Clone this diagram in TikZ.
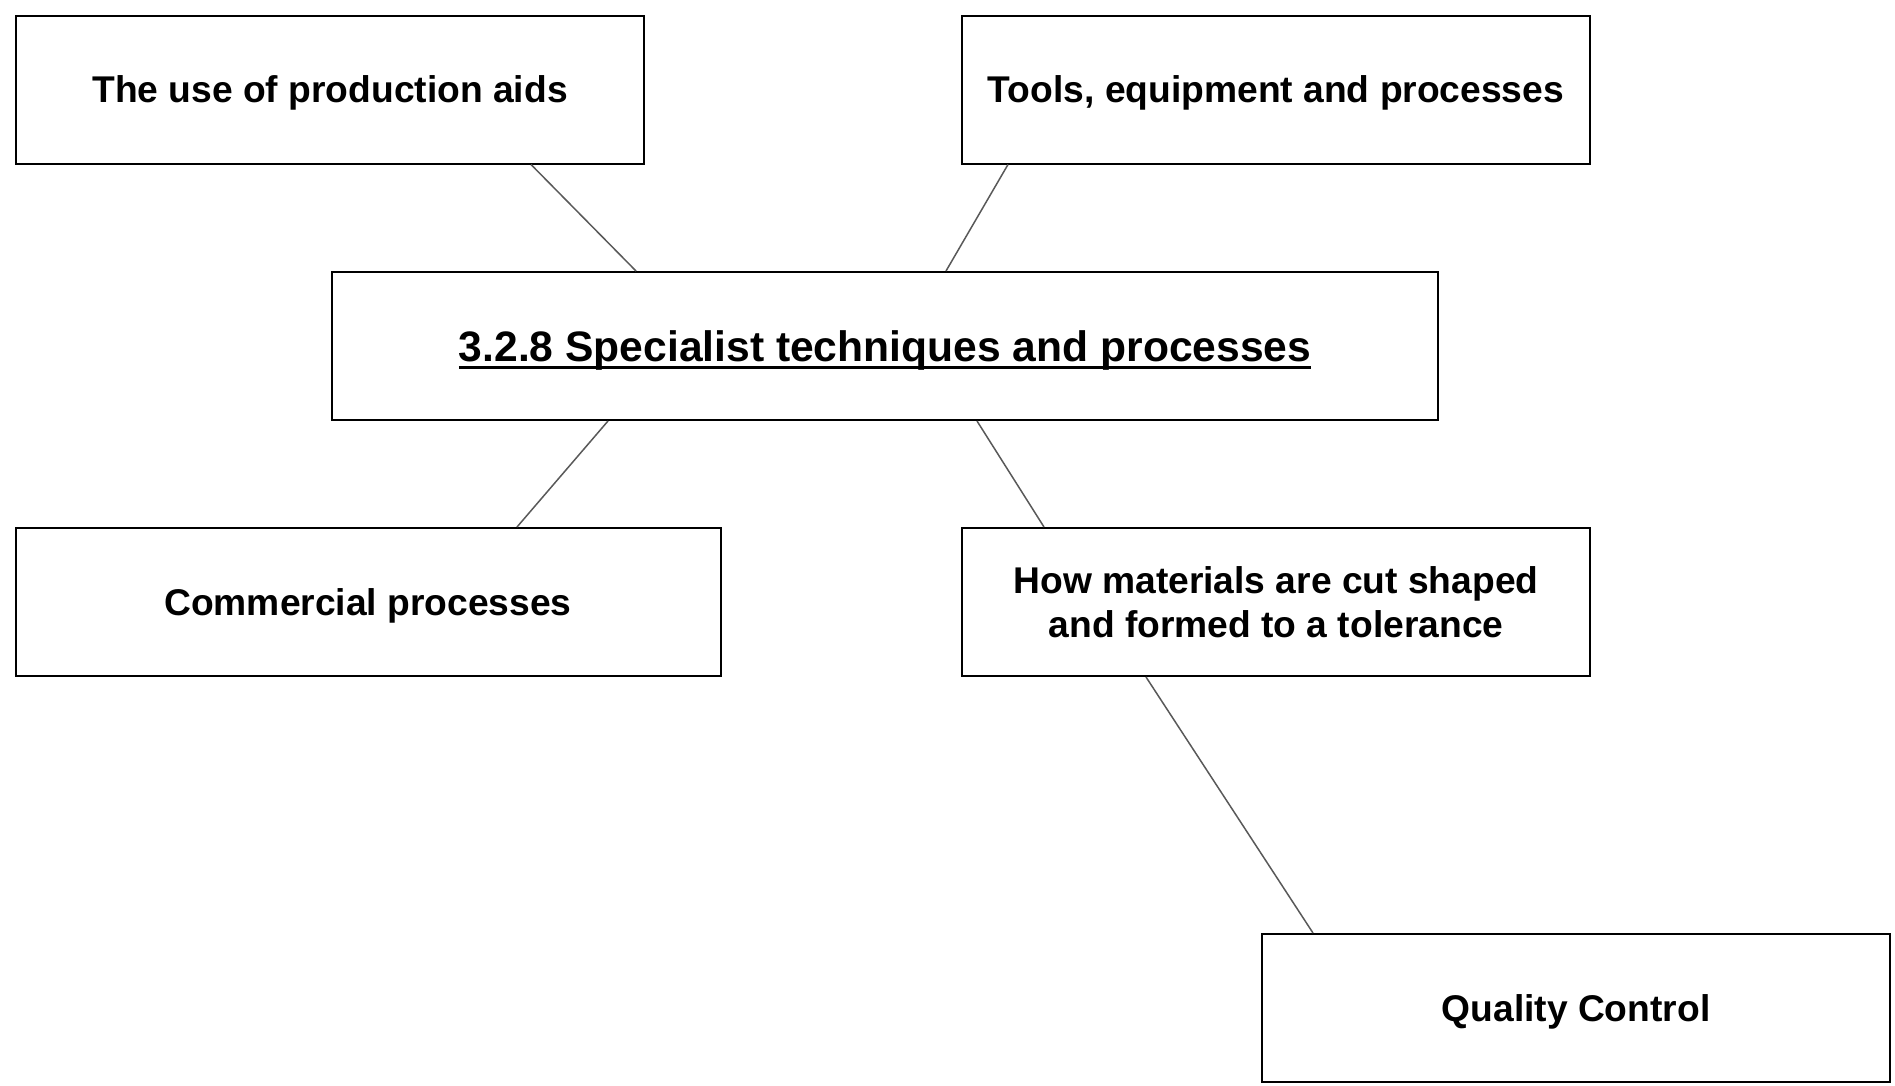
\documentclass[tikz,border=0pt]{standalone}
\usepackage{fontspec}
\setmainfont{Liberation Sans}
\usepackage{tikz}
\usetikzlibrary{positioning}
\newcommand\ulbox[1]{\setbox0\hbox{#1}\rlap{\rule[-7.5pt]{\wd0}{3pt}}\box0}
\tikzset {
    style A/.style={
        draw=black,
        line width=2pt,
        rectangle, % Set the shape as a rectangle
        minimum width=628pt,
        minimum height=148pt,
        align=center,
        font=\fontsize{37.2}{44}\selectfont\bfseries,
    },
    style S/.style={
        style A,
        text depth=0pt, % single line of text
    },
    style B/.style={
        style S,
        minimum width=1106pt,
        font=\fontsize{42.6}{50}\selectfont\bfseries,
    },
    style L/.style={
        draw=black!65,
        line width=1.5pt,
    },
}
\begin{document}
\begin{tikzpicture}[x=1pt, y=-1pt]
\useasboundingbox (0,0) rectangle (1895,1085);

\node[style B] at (885, 346) (spec) {\ulbox{3.2.8 Specialist techniques and processes}};

\node[style S] at (330, 89.5) (aids) {The use of production aids};
\node[style S] at (1276, 89.5) (tools) {Tools, equipment and processes};
\node[style S, minimum width=705pt] at (368, 602) (comm) {Commercial processes};
\node[style A] at (1276, 602) (how) {How materials are cut shaped\\and formed to a tolerance};
\node[style S] at (1576, 1008) (qc) {Quality Control};

\draw[style L] ([xshift=201pt]aids.south) -- ([xshift=-249pt]spec.north);
\draw[style L] ([xshift=-268pt]tools.south) -- ([xshift=61pt]spec.north);
\draw[style L] ([xshift=-277pt]spec.south) -- ([xshift=149pt]comm.north);
\draw[style L] ([xshift=92pt]spec.south) -- ([xshift=-232pt]how.north);
\draw[style L] ([xshift=-130pt]how.south) -- ([xshift=-263pt]qc.north);
\end{tikzpicture}
\end{document}
